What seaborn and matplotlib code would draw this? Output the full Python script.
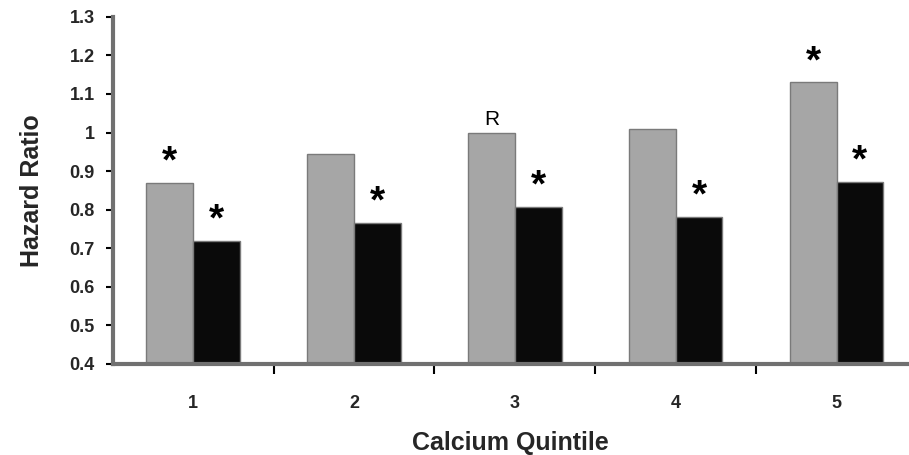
import pandas as pd
import matplotlib
matplotlib.use("Agg")
import matplotlib.pyplot as plt
import seaborn as sns

# values
quintiles = ["1", "2", "3", "4", "5"]
series_names = ["A", "B"]
grey_values = [0.87, 0.944, 1.0, 1.01, 1.13]
black_values = [0.72, 0.766, 0.808, 0.782, 0.873]
grey_marks = ["*", "", "R", "", "*"]
black_marks = ["*", "*", "*", "*", "*"]
y_ticks = [0.4, 0.5, 0.6, 0.7, 0.8, 0.9, 1.0, 1.1, 1.2, 1.3]
y_tick_labels = ["0.4", "0.5", "0.6", "0.7", "0.8", "0.9", "1", "1.1", "1.2", "1.3"]

df = pd.DataFrame({
    "quintile": quintiles * 2,
    "series": [series_names[0]] * 5 + [series_names[1]] * 5,
    "hr": grey_values + black_values,
})

sns.set_theme(style="white")
plt.rcParams["font.family"] = ["Liberation Sans", "DejaVu Sans"]

fig = plt.figure(figsize=(9.09, 4.55), dpi=100)
ax = fig.add_axes([0.124, 0.2, 0.876, 0.763])

sns.barplot(
    data=df, x="quintile", y="hr", hue="series",
    palette=["#a6a6a6", "#0a0a0a"], width=0.58, gap=0,
    edgecolor="#7a7a7a", linewidth=1.0, legend=False, ax=ax,
)
# bars start at the axis floor, so draw them from 0.4
for patch in ax.patches:
    h = patch.get_height()
    patch.set_y(0.4)
    patch.set_height(h - 0.4)

# stars / reference mark above each bar
for i, (g, b) in enumerate(zip(grey_values, black_values)):
    for off, val, mark in ((-0.145, g, grey_marks[i]), (0.145, b, black_marks[i])):
        if not mark:
            continue
        if mark == "*":
            ax.text(i + off, val + 0.052, mark, ha="center", va="center",
                    fontsize=28, fontweight="bold", color="black")
        else:
            ax.text(i + off, val + 0.008, mark, ha="center", va="bottom",
                    fontsize=15, color="black")

ax.set_ylim(0.4, 1.3)
ax.set_xlim(-0.5, 4.45)
ax.set_yticks(y_ticks)
ax.set_yticklabels(y_tick_labels, fontsize=13, fontweight="bold")
ax.set_xticks(range(len(quintiles)))
ax.set_xticklabels(quintiles, fontsize=13, fontweight="bold")
ax.set_xticks([0.5, 1.5, 2.5, 3.5], minor=True)
ax.tick_params(axis="x", which="major", length=0, pad=22)
ax.tick_params(axis="x", which="minor", bottom=True, direction="out",
               length=7, width=1.5, color="black")
ax.tick_params(axis="y", length=5, width=1.5, color="black", left=True, pad=8)

ax.set_xlabel("Calcium Quintile", fontsize=18, fontweight="bold", labelpad=14)
ax.set_ylabel("Hazard Ratio", fontsize=18, fontweight="bold", labelpad=18)

for side in ["top", "right"]:
    ax.spines[side].set_visible(False)
for side in ["left", "bottom"]:
    ax.spines[side].set_color("#707070")
    ax.spines[side].set_linewidth(3)

fig.savefig("out.png", dpi=100)
